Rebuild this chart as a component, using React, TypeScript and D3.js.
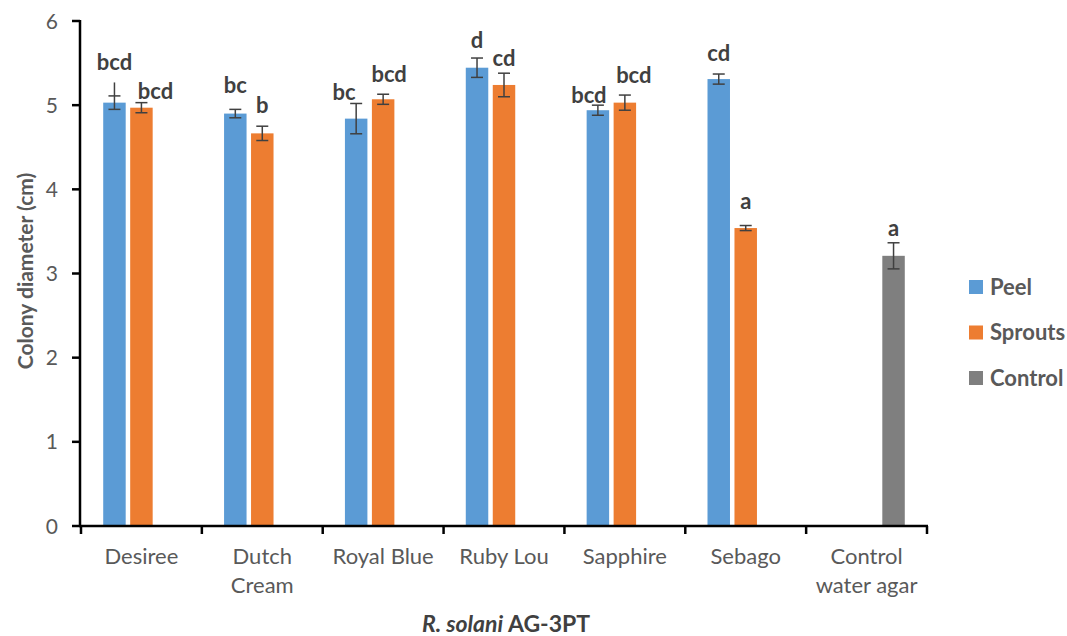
import React from "react";
import * as d3 from "d3";

const categories = ["Desiree", "Dutch Cream", "Royal Blue", "Ruby Lou", "Sapphire", "Sebago", "Control water agar"];
const categoryLines = [["Desiree"], ["Dutch", "Cream"], ["Royal Blue"], ["Ruby Lou"], ["Sapphire"], ["Sebago"], ["Control", "water agar"]];
const seriesNames = ["Peel", "Sprouts", "Control"];
const seriesColors = ["#5B9BD5", "#ED7D31", "#7F7F7F"];

// null = no bar
const peelValues = [5.03, 4.9, 4.84, 5.445, 4.94, 5.31, null];
const peelErrors = [0.08, 0.05, 0.18, 0.115, 0.06, 0.06, null];
const peelLetters = ["bcd", "bc", "bc", "d", "bcd", "cd", null];

const sproutValues = [4.97, 4.665, 5.07, 5.24, 5.03, 3.54, null];
const sproutErrors = [0.06, 0.085, 0.06, 0.14, 0.09, 0.03, null];
const sproutLetters = ["bcd", "b", "bcd", "cd", "bcd", "a", null];

const controlValues = [null, null, null, null, null, null, 3.21];
const controlErrors = [null, null, null, null, null, null, 0.155];
const controlLetters = [null, null, null, null, null, null, "a"];

// Desiree peel whisker reaches higher than its cap in the original
const peelWhiskerTop = [5.27, null, null, null, null, null, null];

const yTicks = [0, 1, 2, 3, 4, 5, 6];

// label nudges [dx, dy] in px, per series per category
const labelNudge = [
  [[0, 0], [0, -4], [-12, 8.5], [0, 2], [-9, 10], [0, -1], [0, 0]],
  [[14, 8.5], [0, -1], [6, 0], [0, 5], [9, 0], [0, -5], [0, 0]],
  [[0, 0], [0, 0], [0, 0], [0, 0], [0, 0], [0, 0], [0, 5]],
];

const W = 1067;
const H = 636;
const FONT = "Lato, 'Open Sans', sans-serif";
const TXT = "#595959";
const LBL = "#404040";

export default function App() {
  const x = d3.scaleBand<string>().domain(categories).range([81, 927]).padding(0);
  const y = d3.scaleLinear().domain([0, 6]).range([526, 21]);
  const bw = x.bandwidth();
  const barW = bw * 0.186;
  const step = barW * 1.2;

  const series = [
    { values: peelValues, errors: peelErrors, letters: peelLetters },
    { values: sproutValues, errors: sproutErrors, letters: sproutLetters },
    { values: controlValues, errors: controlErrors, letters: controlLetters },
  ];

  const marks: React.ReactNode[] = [];
  series.forEach((s, si) => {
    categories.forEach((c, ci) => {
      const v = s.values[ci];
      if (v == null) return;
      const e = s.errors[ci] ?? 0;
      const cx = (x(c) as number) + bw / 2 + (si - 1) * step;
      const capW = 6;
      const topY = y(v + e);
      const botY = y(v - e);
      const whisk = si === 0 ? peelWhiskerTop[ci] : null;
      const lineTop = whisk != null ? y(whisk) : topY;
      const [dx, dy] = labelNudge[si][ci];
      marks.push(
        <g key={`${si}-${ci}`}>
          <rect x={cx - barW / 2} y={y(v)} width={barW} height={y(0) - y(v)} fill={seriesColors[si]} />
          <line x1={cx} x2={cx} y1={lineTop} y2={botY} stroke="#404040" strokeWidth={1.5} />
          <line x1={cx - capW} x2={cx + capW} y1={topY} y2={topY} stroke="#404040" strokeWidth={1.5} />
          <line x1={cx - capW} x2={cx + capW} y1={botY} y2={botY} stroke="#404040" strokeWidth={1.5} />
          {s.letters[ci] && (
            <text x={cx + dx} y={lineTop - 12 + dy} textAnchor="middle" fontSize={22} fontWeight="bold" fill={LBL} fontFamily={FONT}>
              {s.letters[ci]}
            </text>
          )}
        </g>
      );
    });
  });

  const boundaries = [...categories.map((c) => x(c) as number), 927];

  return (
    <svg width={W} height={H} style={{ position: "absolute", left: 0, top: 0, background: "#fff" }}>
      {/* y axis */}
      <line x1={80} x2={80} y1={y(6) - 1} y2={y(0)} stroke="#000" strokeWidth={2.5} />
      {yTicks.map((t) => (
        <g key={t}>
          <line x1={72} x2={80} y1={y(t)} y2={y(t)} stroke="#000" strokeWidth={2.5} />
          <text x={58} y={y(t)} dy="0.36em" textAnchor="end" fontSize={21} fill={TXT} fontFamily={FONT}>
            {t}
          </text>
        </g>
      ))}
      {marks}
      {/* x axis */}
      <line x1={79} x2={928} y1={y(0)} y2={y(0)} stroke="#000" strokeWidth={2.5} />
      {boundaries.map((b, i) => (
        <line key={i} x1={b} x2={b} y1={y(0)} y2={y(0) + 8} stroke="#000" strokeWidth={2.5} />
      ))}
      {categories.map((c, ci) => (
        <text key={c} textAnchor="middle" fontSize={22} fill={TXT} fontFamily={FONT}>
          {categoryLines[ci].map((ln, li) => (
            <tspan key={li} x={(x(c) as number) + bw / 2} y={564 + li * 29}>
              {ln}
            </tspan>
          ))}
        </text>
      ))}
      {/* axis titles */}
      <text transform="translate(33,271) rotate(-90)" textAnchor="middle" fontSize={21} fontWeight="bold" fill={TXT} fontFamily={FONT}>
        Colony diameter (cm)
      </text>
      <text x={506} y={632} textAnchor="middle" fontSize={23} fontWeight="bold" fill={LBL} fontFamily={FONT}>
        <tspan fontStyle="italic">R. solani</tspan> AG-3PT
      </text>
      {/* legend */}
      {seriesNames.map((n, i) => (
        <g key={n} transform={`translate(969, ${287 + i * 45.5})`}>
          <rect x={0} y={-7} width={14} height={14} fill={seriesColors[i]} />
          <text x={21} y={0} dy="0.36em" fontSize={22} fontWeight="bold" fill={TXT} fontFamily={FONT}>
            {n}
          </text>
        </g>
      ))}
    </svg>
  );
}
